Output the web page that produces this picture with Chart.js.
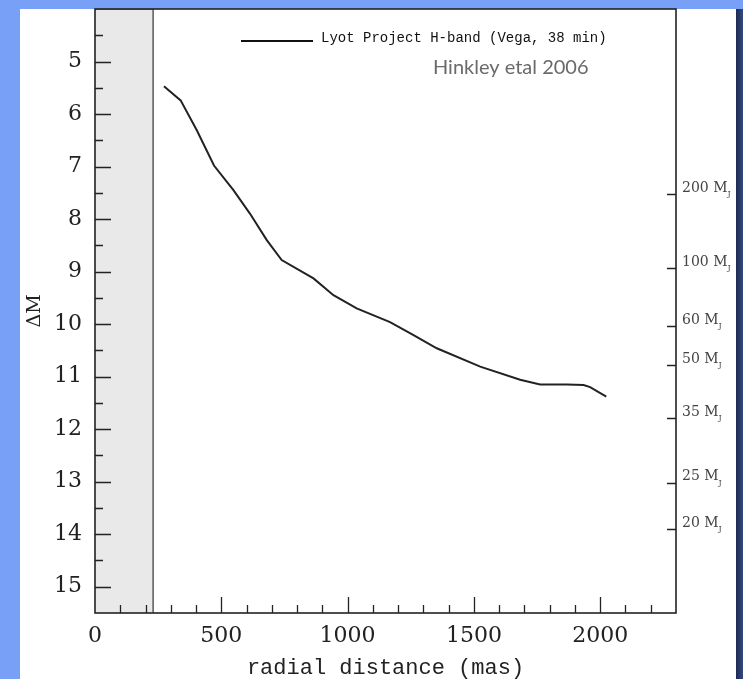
<!DOCTYPE html>
<html>
<head>
<meta charset="utf-8">
<script src="https://cdn.jsdelivr.net/npm/chart.js@4.4.1/dist/chart.umd.min.js"></script>
<style>
  html, body { margin: 0; padding: 0; }
  body { width: 743px; height: 679px; position: relative; overflow: hidden; background: #78a0f6; }
  #panel { position: absolute; left: 20px; top: 9px; width: 716px; height: 670px; background: #fff; }
  #edge { position: absolute; left: 736px; top: 9px; width: 7px; height: 670px; background: linear-gradient(to right, #1c2b55, #34497c); }
  #wrap { position: absolute; left: 0; top: 0; width: 743px; height: 679px; }
</style>
</head>
<body>
<div id="panel"></div>
<div id="edge"></div>
<div id="wrap"><canvas id="chart1"></canvas></div>
<script>
// contrast curve
const radius = [273, 339, 403, 471, 548, 614, 680, 739, 865, 944, 1036, 1168, 1261, 1353, 1525, 1683, 1762, 1868, 1934, 1960, 2024]
const deltaMag = [5.47, 5.74, 6.31, 6.98, 7.45, 7.90, 8.40, 8.78, 9.13, 9.45, 9.70, 9.96, 10.21, 10.46, 10.81, 11.06, 11.15, 11.15, 11.16, 11.20, 11.38]

// mass scale on the right side
const massLabels = ['200', '100', '60', '50', '35', '25', '20']
const massDeltaMag = [7.53, 8.94, 10.04, 10.78, 11.79, 13.02, 13.90]

const innerLimit = 230   // mas, shaded region
const xMax = 2300
const yMin = 4
const yMax = 15.5

const serif = "'DejaVu Serif', serif"
const mono = "'Liberation Mono', monospace"

// inward ticks, frame, legend and note
const decorations = {
  id: 'decorations',
  afterDraw(chart) {
    const { ctx, chartArea: a, scales } = chart
    ctx.save()
    ctx.strokeStyle = '#222'
    ctx.lineWidth = 1.3
    ctx.beginPath()
    scales.x.ticks.forEach(t => {
      if (t.value <= 0 || t.value >= xMax) return
      const px = Math.round(scales.x.getPixelForValue(t.value)) + 0.5
      const len = t.value % 500 === 0 ? 16 : 8
      ctx.moveTo(px, a.bottom)
      ctx.lineTo(px, a.bottom - len)
    })
    scales.y.ticks.forEach(t => {
      if (t.value <= yMin || t.value >= yMax) return
      const py = Math.round(scales.y.getPixelForValue(t.value)) + 0.5
      const len = Number.isInteger(t.value) ? 16 : 8
      ctx.moveTo(a.left, py)
      ctx.lineTo(a.left + len, py)
    })
    scales.y2.ticks.forEach(t => {
      const py = Math.round(scales.y2.getPixelForValue(t.value)) + 0.5
      ctx.moveTo(a.right, py)
      ctx.lineTo(a.right - 9, py)
    })
    ctx.stroke()

    ctx.lineWidth = 1.6
    ctx.strokeRect(a.left, a.top, a.right - a.left, a.bottom - a.top)

    // subscript J on the mass labels
    ctx.fillStyle = '#444'
    ctx.textBaseline = 'alphabetic'
    scales.y2.ticks.forEach((t, i) => {
      const py = scales.y2.getPixelForValue(t.value)
      ctx.font = '14px ' + serif
      const w = ctx.measureText(massLabels[i] + ' M').width
      ctx.font = '8px ' + serif
      ctx.fillText('J', a.right + 6 + w, py + 2)
    })

    // legend
    const ds = chart.data.datasets[0]
    ctx.strokeStyle = '#111'
    ctx.lineWidth = 2
    ctx.beginPath()
    ctx.moveTo(241, 41)
    ctx.lineTo(313, 41)
    ctx.stroke()
    ctx.fillStyle = '#111'
    ctx.font = '14px ' + mono
    ctx.textBaseline = 'alphabetic'
    ctx.fillText(ds.label, 321, 42)

    ctx.fillStyle = '#6a6a6a'
    ctx.font = "20px Lato, sans-serif"
    ctx.fillText('Hinkley etal 2006', 433, 74)
    ctx.restore()
  }
}

// no extra room for half labels at the ends of the axes
function noEdgePadding(s) {
  s.paddingTop = 0
  s.paddingBottom = 0
  s.paddingLeft = 0
  s.paddingRight = 0
}

var ctx = document.getElementById('chart1').getContext('2d')
var chart1 = new Chart(ctx, {
  type: 'line',
  data: {
    datasets: [{
      label: 'Lyot Project H-band (Vega, 38 min)',
      data: radius.map((r, i) => ({ x: r, y: deltaMag[i] })),
      borderColor: '#222',
      borderWidth: 2,
      pointRadius: 0,
      tension: 0,
      fill: false,
      order: 1
    }, {
      label: 'inner',
      data: [{ x: 0, y: yMin }, { x: innerLimit, y: yMin }, { x: innerLimit, y: yMax }],
      borderColor: '#333',
      borderWidth: 1.2,
      backgroundColor: '#e9e9e9',
      pointRadius: 0,
      fill: { value: yMax },
      order: 2
    }]
  },
  options: {
    animation: false,
    responsive: true,
    maintainAspectRatio: false,
    layout: { padding: { left: 20, top: 9, right: 0, bottom: 0 } },
    plugins: {
      legend: { display: false },
      tooltip: { enabled: false }
    },
    scales: {
      x: {
        type: 'linear',
        min: 0,
        max: xMax,
        grid: { display: false, drawTicks: false },
        border: { display: false },
        ticks: {
          stepSize: 100,
          autoSkip: false,
          maxRotation: 0,
          padding: 10,
          color: '#222',
          font: { family: serif, size: 22 },
          callback: v => (v % 500 === 0 && v < xMax ? v : '')
        },
        title: {
          display: true,
          text: 'radial distance (mas)',
          color: '#222',
          font: { family: mono, size: 22, lineHeight: 1 },
          padding: { top: 0, bottom: 0 }
        },
        afterFit: s => { s.height = 66; noEdgePadding(s) }
      },
      y: {
        type: 'linear',
        position: 'left',
        min: yMin,
        max: yMax,
        reverse: true,
        grid: { display: false, drawTicks: false },
        border: { display: false },
        ticks: {
          stepSize: 0.5,
          autoSkip: false,
          padding: 13,
          color: '#222',
          font: { family: serif, size: 22 },
          callback: v => (Number.isInteger(v) && v >= 5 ? v : '')
        },
        title: {
          display: true,
          text: 'ΔM',
          color: '#222',
          font: { family: serif, size: 19 },
          padding: { top: 4, bottom: 0 }
        },
        afterFit: s => { s.width = 75; noEdgePadding(s) }
      },
      y2: {
        type: 'linear',
        position: 'right',
        min: yMin,
        max: yMax,
        reverse: true,
        grid: { display: false, drawTicks: false },
        border: { display: false },
        afterBuildTicks: s => { s.ticks = massDeltaMag.map(v => ({ value: v })) },
        ticks: {
          autoSkip: false,
          padding: 6,
          labelOffset: -6,
          color: '#444',
          font: { family: serif, size: 14 },
          callback: (v, i) => massLabels[i] + ' M'
        },
        afterFit: s => { s.width = 67; noEdgePadding(s) }
      }
    }
  },
  plugins: [decorations]
})
</script>
</body>
</html>
